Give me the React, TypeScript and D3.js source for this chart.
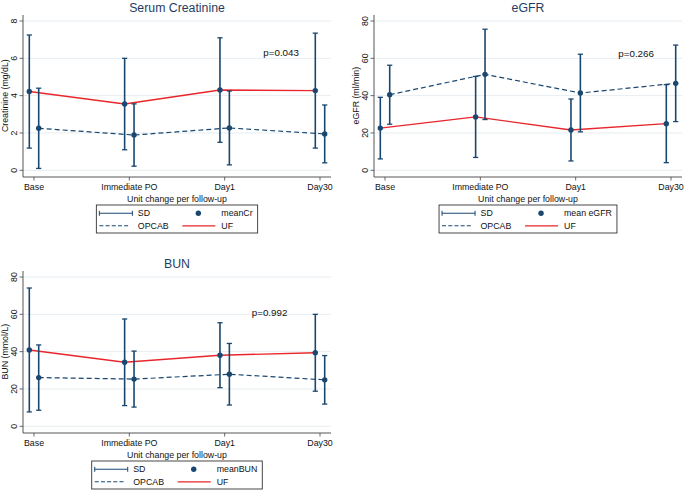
import React from "react";
import * as d3 from "d3";

const categories = ["Base", "Immediate PO", "Day1", "Day30"];
const seriesNames = ["OPCAB", "UF"];

const creatUFMean = [4.22, 3.55, 4.3, 4.27];
const creatUFSD = [3.03, 2.45, 2.8, 3.08];
const creatOPMean = [2.25, 1.89, 2.27, 1.95];
const creatOPSD = [2.15, 1.67, 1.98, 1.55];
const creatTicks = [0, 2, 4, 6, 8];

const egfrUFMean = [22.6, 28.6, 21.6, 25.0];
const egfrUFSD = [16.5, 21.7, 16.6, 20.9];
const egfrOPMean = [40.5, 51.4, 41.4, 46.6];
const egfrOPSD = [15.8, 24.2, 20.8, 20.5];
const egfrTicks = [0, 20, 40, 60, 80];

const bunUFMean = [40.9, 34.3, 38.1, 39.4];
const bunUFSD = [33.2, 23.2, 17.4, 20.6];
const bunOPMean = [26.1, 25.3, 27.9, 24.9];
const bunOPSD = [17.5, 15.0, 16.5, 13.0];
const bunTicks = [0, 20, 40, 60, 80];

const NAVY = "#1a476f";
const RED = "#e8262b";
const FONT = "'Liberation Sans', Arial, sans-serif";

function textWidth(s: string, size: number) {
  const c = document.createElement("canvas").getContext("2d");
  if (!c) return s.length * size * 0.55;
  c.font = `${size}px 'Liberation Sans', Arial, sans-serif`;
  return c.measureText(s).width;
}

type PanelProps = {
  dx: number;
  dy: number;
  title: string;
  yTitle: string;
  ticks: number[];
  ufMean: number[];
  ufSD: number[];
  opMean: number[];
  opSD: number[];
  pText: string;
  pIdx: number;
  pVal: number;
  meanLabel: string;
};

function Panel(p: PanelProps) {
  const left = 23,
    right = 331,
    top = 15,
    axisY = 177;
  const yMax = p.ticks[p.ticks.length - 1];
  const y = d3.scaleLinear().domain([0, yMax]).range([170.3, 21]);
  const x = d3.scalePoint<string>().domain(categories).range([34, 320]);
  const xi = d3.scaleLinear().domain([0, categories.length - 1]).range([34, 320]);
  const off = 4.7;
  const cx = (left + right) / 2;

  const groups = [
    { name: seriesNames[1], mean: p.ufMean, sd: p.ufSD, o: -off, color: RED, dash: undefined as string | undefined },
    { name: seriesNames[0], mean: p.opMean, sd: p.opSD, o: off, color: NAVY, dash: "5,3" },
  ];

  const line = (g: typeof groups[0]) =>
    d3.line<number>()
      .x((_, i) => (x(categories[i]) as number) + g.o)
      .y((d) => y(d))(g.mean) || "";

  const legW = 125 + textWidth(p.meanLabel, 8.8) + 5;
  const legL = cx - legW / 2;
  const legT = 205;
  const r1 = 213.3,
    r2 = 225.8;
  const cap = 2.6;

  return (
    <g transform={`translate(${p.dx},${p.dy})`} fontFamily={FONT}>
      <text x={cx} y={11.5} textAnchor="middle" fontSize={12.3} fill="#1f3d63">
        {p.title}
      </text>
      {p.ticks.map((t) => (
        <g key={t}>
          <line x1={left} x2={right} y1={y(t)} y2={y(t)} stroke="#e6edf1" strokeWidth={1} />
          <line x1={left - 3.5} x2={left} y1={y(t)} y2={y(t)} stroke="#444" strokeWidth={0.8} />
          <text
            transform={`translate(${left - 9.5},${y(t)}) rotate(-90)`}
            textAnchor="middle"
            dy="0.35em"
            fontSize={8.8}
            fill="#111"
          >
            {t}
          </text>
        </g>
      ))}
      <text transform={`translate(5,${(y(0) + y(yMax)) / 2}) rotate(-90)`} textAnchor="middle" dy="0.35em" fontSize={8.8} fill="#111">
        {p.yTitle}
      </text>
      <line x1={left} x2={left} y1={top} y2={axisY} stroke="#444" strokeWidth={0.9} />
      <line x1={left} x2={right} y1={axisY} y2={axisY} stroke="#444" strokeWidth={0.9} />
      {categories.map((c) => (
        <g key={c}>
          <line x1={x(c)} x2={x(c)} y1={axisY} y2={axisY + 3.5} stroke="#444" strokeWidth={0.8} />
          <text x={x(c)} y={190.3} textAnchor="middle" fontSize={8.8} fill="#111">
            {c}
          </text>
        </g>
      ))}
      <text x={cx} y={202.3} textAnchor="middle" fontSize={8.8} fill="#111">
        Unit change per follow-up
      </text>

      {groups.map((g) => (
        <path key={g.name + "l"} d={line(g)} fill="none" stroke={g.color} strokeWidth={g.dash ? 1.2 : 1.4} strokeDasharray={g.dash} />
      ))}
      {groups.map((g) =>
        g.mean.map((m, i) => {
          const px = (x(categories[i]) as number) + g.o;
          const hi = y(m + g.sd[i]);
          const lo = y(m - g.sd[i]);
          return (
            <g key={g.name + i}>
              <line x1={px} x2={px} y1={hi} y2={lo} stroke={NAVY} strokeWidth={1.6} />
              <line x1={px - cap} x2={px + cap} y1={hi} y2={hi} stroke={NAVY} strokeWidth={1.3} />
              <line x1={px - cap} x2={px + cap} y1={lo} y2={lo} stroke={NAVY} strokeWidth={1.3} />
              <circle cx={px} cy={y(m)} r={2.7} fill={NAVY} />
            </g>
          );
        })
      )}

      <text x={xi(p.pIdx)} y={y(p.pVal) + 3.5} fontSize={9.8} fill="#111">
        {p.pText}
      </text>

      <rect x={legL} y={legT} width={legW} height={28} fill="#fff" stroke="#333" strokeWidth={0.9} />
      <line x1={legL + 3} x2={legL + 36} y1={r1} y2={r1} stroke={NAVY} strokeWidth={1.1} />
      <line x1={legL + 3} x2={legL + 3} y1={r1 - 2.5} y2={r1 + 2.5} stroke={NAVY} strokeWidth={1} />
      <line x1={legL + 36} x2={legL + 36} y1={r1 - 2.5} y2={r1 + 2.5} stroke={NAVY} strokeWidth={1} />
      <text x={legL + 41.5} y={r1 + 3.1} fontSize={8.8} fill="#111">SD</text>
      <circle cx={legL + 102} cy={r1} r={2.7} fill={NAVY} />
      <text x={legL + 125} y={r1 + 3.1} fontSize={8.8} fill="#111">{p.meanLabel}</text>
      <line x1={legL + 3} x2={legL + 32} y1={r2} y2={r2} stroke={NAVY} strokeWidth={1.1} strokeDasharray="4,2.2" />
      <text x={legL + 41.5} y={r2 + 3.1} fontSize={8.8} fill="#111">{seriesNames[0]}</text>
      <line x1={legL + 86} x2={legL + 119} y1={r2} y2={r2} stroke={RED} strokeWidth={1.2} />
      <text x={legL + 125} y={r2 + 3.1} fontSize={8.8} fill="#111">{seriesNames[1]}</text>
    </g>
  );
}

export default function App() {
  return (
    <svg width={685} height={490} style={{ position: "absolute", left: 0, top: 0, background: "#fff" }}>
      <rect width={685} height={490} fill="#fff" />
      <Panel
        dx={0}
        dy={0}
        title="Serum Creatinine"
        yTitle="Creatinine (mg/dL)"
        ticks={creatTicks}
        ufMean={creatUFMean}
        ufSD={creatUFSD}
        opMean={creatOPMean}
        opSD={creatOPSD}
        pText="p=0.043"
        pIdx={2.405}
        pVal={6.32}
        meanLabel="meanCr"
      />
      <Panel
        dx={351}
        dy={0}
        title="eGFR"
        yTitle="eGFR (ml/min)"
        ticks={egfrTicks}
        ufMean={egfrUFMean}
        ufSD={egfrUFSD}
        opMean={egfrOPMean}
        opSD={egfrOPSD}
        pText="p=0.266"
        pIdx={2.447}
        pVal={62.7}
        meanLabel="mean eGFR"
      />
      <Panel
        dx={0}
        dy={256}
        title="BUN"
        yTitle="BUN (mmol/L)"
        ticks={bunTicks}
        ufMean={bunUFMean}
        ufSD={bunUFSD}
        opMean={bunOPMean}
        opSD={bunOPSD}
        pText="p=0.992"
        pIdx={2.284}
        pVal={61}
        meanLabel="meanBUN"
      />
    </svg>
  );
}
